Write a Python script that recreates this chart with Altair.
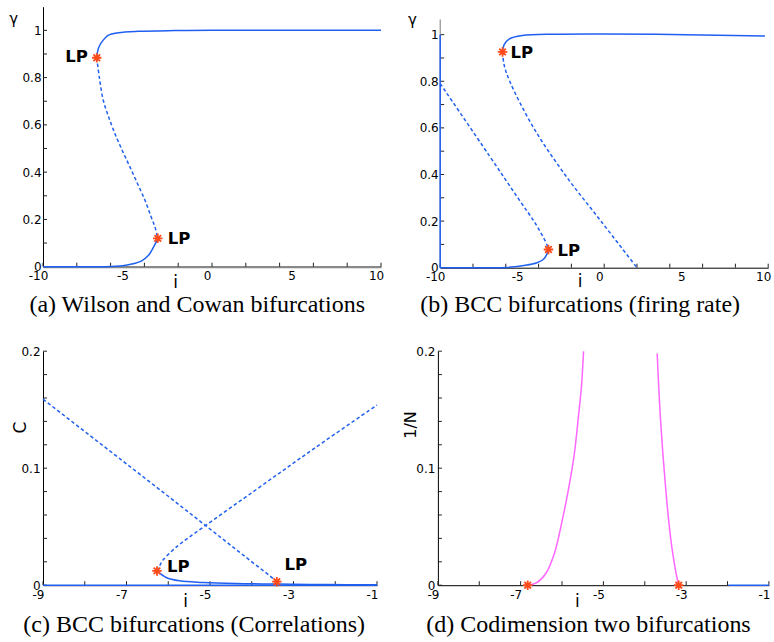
import altair as alt
import pandas as pd

BLUE = "#2060f0"
MAGENTA = "#ff66ff"
STAR = "#ff4a1a"
SANS = "DejaVu Sans"
SERIF = "Liberation Serif"
ASTERISK = "M-1,0L1,0M0,-1L0,1M-0.7,-0.7L0.7,0.7M-0.7,0.7L0.7,-0.7"

# ---------------- Panel (a): Wilson and Cowan ----------------
a_up_i = [-6.82, -6.73, -6.53, -6.14, -5.54, -4.36, -2.2, 0, 5, 10]
a_up_v = [0.884, 0.922, 0.950, 0.979, 0.990, 0.996, 0.999, 1.0, 1.0, 1.0]
a_mid_i = [-6.82, -6.67, -6.43, -6.1, -5.74, -5.3, -4.85, -4.4, -3.96, -3.6, -3.37, -3.21]
a_mid_v = [0.884, 0.802, 0.703, 0.63, 0.562, 0.49, 0.421, 0.35, 0.28, 0.21, 0.167, 0.12]
a_low_i = [-10, -7, -6, -5.3, -4.75, -4.16, -3.77, -3.47, -3.3, -3.21]
a_low_v = [0, 0, 0.001, 0.004, 0.011, 0.025, 0.047, 0.082, 0.105, 0.12]
a_lp_i = [-6.82, -3.21]
a_lp_v = [0.884, 0.12]
a_xlabels = [-10, -5, 0, 5, 10]
a_xticks = [-10, -8, -6, -4, -2, 0, 2, 4, 6, 8, 10]
a_ylabels = [0, 0.2, 0.4, 0.6, 0.8, 1]
a_yticks = [0, 0.1, 0.2, 0.3, 0.4, 0.5, 0.6, 0.7, 0.8, 0.9, 1.0]

# ---------------- Panel (b): BCC firing rate ----------------
b_wall_i = [-10, -10]
b_wall_v = [0, 1.0]
b_up_i = [-6.2, -6.1, -5.8, -5.0, -3.0, 0, 5, 9.8]
b_up_v = [0.926, 0.957, 0.981, 0.996, 1.002, 1.003, 1.0, 0.994]
b_mid1_i = [-6.2, -6.1, -5.76, -4.3, -2.4, -0.2, 2.0]
b_mid1_v = [0.926, 0.87, 0.8, 0.6, 0.4, 0.2, 0.0]
b_mid2_i = [-10, -7, -5.2, -4.2, -3.6, -3.45, -3.4]
b_mid2_v = [0.79, 0.48, 0.293, 0.19, 0.115, 0.09, 0.078]
b_low_i = [-10, -7, -6, -4.8, -4.1, -3.7, -3.5, -3.4]
b_low_v = [0, 0, 0.001, 0.01, 0.021, 0.036, 0.057, 0.078]
b_lp_i = [-6.2, -3.4]
b_lp_v = [0.926, 0.078]
b_axis_top = 1.065

# ---------------- Panel (c): BCC correlations ----------------
c_base_i = [-9, -1]
c_base_v = [0, 0]
c_low_i = [-6.27, -6.05, -5.73, -5.17, -4.38, -3.4, -2.2, -1]
c_low_v = [0.0122, 0.0066, 0.0037, 0.0023, 0.0014, 0.001, 0.0005, 0.0003]
c_d1_i = [-9, -6, -4, -3.6, -3.4]
c_d1_v = [0.159, 0.076, 0.020, 0.009, 0.003]
c_d2_i = [-6.27, -6.2, -6.13, -5.89, -5.65, -4, -2.5, -1]
c_d2_v = [0.0122, 0.017, 0.0213, 0.030, 0.037, 0.079, 0.117, 0.154]
c_lp_i = [-6.27, -3.4]
c_lp_v = [0.0122, 0.003]
cd_xlabels = [-9, -7, -5, -3, -1]
cd_xticks = [-9, -8, -7, -6, -5, -4, -3, -2, -1]
cd_ylabels = [0, 0.1, 0.2]
cd_yticks = [0, 0.02, 0.04, 0.06, 0.08, 0.1, 0.12, 0.14, 0.16, 0.18, 0.2]

# ---------------- Panel (d): codimension two ----------------
d_m1_i = [-6.83, -6.62, -6.38, -6.18, -5.99, -5.83, -5.70, -5.61, -5.53, -5.48]
d_m1_v = [0, 0.002, 0.0106, 0.0277, 0.0562, 0.0846, 0.113, 0.142, 0.170, 0.200]
d_m2_i = [-3.70, -3.62, -3.50, -3.38, -3.26, -3.18]
d_m2_v = [0.198, 0.142, 0.085, 0.042, 0.0134, 0]
d_blue_i = [-1.98, -1]
d_blue_v = [0, 0]
d_pt_i = [-6.83, -3.18]
d_pt_v = [0, 0]


def frame(xs, ys):
    return pd.DataFrame({"i": xs, "v": ys, "o": list(range(len(xs)))})


def panel(w, h, xdom, ydom, xlabels, xticks, ylabels, yticks, xaxis_kw, yaxis_kw,
          curves, stars, labels, caption, cap_dx, cap_offset):
    xax = dict(values=xlabels, ticks=False, grid=False, labelFont=SANS, labelFontSize=12,
               labelColor="black", labelPadding=4, labelOffset=-5, labelFlush=False,
               labelOverlap=False, labelExpr="datum.value + ''", title="i", titleFont=SANS,
               titleFontSize=17, titleFontWeight="normal", titleColor="black",
               titleAlign="center", titleBaseline="alphabetic", domainColor="black",
               domainWidth=1, zindex=0, minExtent=25.5, maxExtent=25.5)
    xax.update(xaxis_kw)
    yax = dict(values=ylabels, ticks=False, grid=False, labelFont=SANS, labelFontSize=12,
               labelColor="black", labelPadding=2, labelFlush=False, labelOverlap=False,
               labelExpr="datum.value + ''", titleFont=SANS, titleFontWeight="normal",
               titleColor="black", titleAlign="center", titleBaseline="alphabetic",
               domainColor="black", domainWidth=1, zindex=0)
    yax.update(yaxis_kw)
    X = alt.X("i:Q", scale=alt.Scale(domain=xdom, nice=False, zero=False), axis=alt.Axis(**xax))
    Y = alt.Y("v:Q", scale=alt.Scale(domain=ydom, nice=False, zero=False), axis=alt.Axis(**yax))
    layers = []
    layers.append(alt.Chart(pd.DataFrame({"i": xticks})).mark_rule(color="#222", strokeWidth=1)
                  .encode(x=X, y=alt.value(h), y2=alt.value(h - 4)))
    layers.append(alt.Chart(pd.DataFrame({"v": yticks})).mark_rule(color="#222", strokeWidth=1)
                  .encode(y=Y, x=alt.value(0), x2=alt.value(4)))
    for xs, ys, color, dashed, kind in curves:
        if kind == "rule":
            layers.append(alt.Chart(pd.DataFrame({"i": [xs[0]], "v": [ys[0]], "v2": [ys[1]]}))
                          .mark_rule(color=color, strokeWidth=1)
                          .encode(x=X, y=Y, y2="v2:Q"))
            continue
        kw = dict(color=color, strokeWidth=1.5, interpolate=kind)
        if dashed:
            kw["strokeDash"] = [3.5, 2.5]
        layers.append(alt.Chart(frame(xs, ys)).mark_line(**kw).encode(x=X, y=Y, order="o:Q"))
    layers.append(alt.Chart(frame(*stars)).mark_point(shape=ASTERISK, size=90, filled=False,
                                                        color=STAR, strokeWidth=1.8, opacity=1)
                  .encode(x=X, y=Y))
    for (li, lv, align, dx, dy) in labels:
        layers.append(alt.Chart(pd.DataFrame({"i": [li], "v": [lv], "t": ["LP"]}))
                      .mark_text(font=SANS, fontWeight="bold", fontSize=16.5, color="black",
                                 align=align, baseline="middle", dx=dx, dy=dy)
                      .encode(x=X, y=Y, text="t:N"))
    return alt.layer(*layers).properties(
        width=w, height=h,
        title=alt.TitleParams(text=caption, orient="bottom", anchor="middle", frame="group",
                              font=SERIF, fontSize=24, fontWeight="normal", color="black",
                              baseline="top", offset=cap_offset, dx=cap_dx))


pa = panel(338, 260, [-10, 10], [0, 1.1], a_xlabels, a_xticks, a_ylabels, a_yticks,
           dict(domainColor="#888888", domainWidth=2.2, titleX=132.2, titleY=21),
           dict(title="γ", titleAngle=0, titleFontSize=15, titleX=-29.8, titleY=16.6,
                minExtent=30, maxExtent=30),
           [(a_low_i, a_low_v, BLUE, False, "catmull-rom"),
            (a_up_i, a_up_v, BLUE, False, "catmull-rom"),
            (a_mid_i, a_mid_v, BLUE, True, "catmull-rom")],
           (a_lp_i, a_lp_v),
           [(a_lp_i[0], a_lp_v[0], "right", -9, -1), (a_lp_i[1], a_lp_v[1], "left", 10, 1)],
           "(a) Wilson and Cowan bifurcations", -14.8, 1.2)

pb = panel(328, 261, [-10, 10], [0, 1.12], a_xlabels, a_xticks, a_ylabels, a_yticks,
           dict(titleX=139.3, titleY=19),
           dict(title="γ", titleAngle=0, titleFontSize=15, titleX=-28.3, titleY=18.3,
                domain=False, minExtent=32.75, maxExtent=32.75),
           [([-10, -10], [0, b_axis_top], "#777777", False, "rule"),
            (b_wall_i, b_wall_v, BLUE, False, "linear"),
            (b_low_i, b_low_v, BLUE, False, "catmull-rom"),
            (b_up_i, b_up_v, BLUE, False, "catmull-rom"),
            (b_mid1_i, b_mid1_v, BLUE, True, "catmull-rom"),
            (b_mid2_i, b_mid2_v, BLUE, True, "catmull-rom")],
           (b_lp_i, b_lp_v),
           [(b_lp_i[0], b_lp_v[0], "left", 8, 1), (b_lp_i[1], b_lp_v[1], "left", 9, 1)],
           "(b) BCC bifurcations (firing rate)", -24, 0)

# the empty first title line widens the left margin shared by the left column
C_LINE = 10.4
pc = panel(334, 234, [-9, -1], [0, 0.2], cd_xlabels, cd_xticks, cd_ylabels, cd_yticks,
           dict(titleX=142, titleY=21.7),
           dict(title=["", "C"], titleAngle=270, titleFontSize=17, titleLineHeight=C_LINE,
                titleX=-17.3 - C_LINE, titleY=75.8, labelPadding=3,
                minExtent=38.7, maxExtent=38.7),
           [(c_base_i, c_base_v, BLUE, False, "linear"),
            (c_low_i, c_low_v, BLUE, False, "catmull-rom"),
            (c_d1_i, c_d1_v, BLUE, True, "linear"),
            (c_d2_i, c_d2_v, BLUE, True, "catmull-rom")],
           (c_lp_i, c_lp_v),
           [(c_lp_i[0], c_lp_v[0], "left", 10, -4), (c_lp_i[1], c_lp_v[1], "left", 7.6, -16.7)],
           "(c) BCC bifurcations (Correlations)", -15.8, 2.2)

pd_ = panel(331, 234, [-9, -1], [0, 0.2], cd_xlabels, cd_xticks, cd_ylabels, cd_yticks,
            dict(titleX=139, titleY=21.3),
            dict(title="1/N", titleAngle=270, titleFontSize=16, titleX=-22.7, titleY=73.3,
                 labelPadding=3, minExtent=35.5, maxExtent=35.5),
            [(d_blue_i, d_blue_v, BLUE, False, "linear"),
             (d_m1_i, d_m1_v, MAGENTA, False, "catmull-rom"),
             (d_m2_i, d_m2_v, MAGENTA, False, "catmull-rom")],
            (d_pt_i, d_pt_v),
            [],
            "(d) Codimension two bifurcations", -14.9, 2.2)

row1 = alt.hconcat(pa, pb, spacing=23.2)
row2 = alt.hconcat(pc, pd_, spacing=21.9)
chart = alt.vconcat(row1, row2, spacing=27.5).properties(
    padding={"left": 1, "top": 6.7, "right": 0, "bottom": 0},
    background="white",
).configure_view(stroke=None)

chart.save("out.html", embed_options={"renderer": "svg", "actions": False})
